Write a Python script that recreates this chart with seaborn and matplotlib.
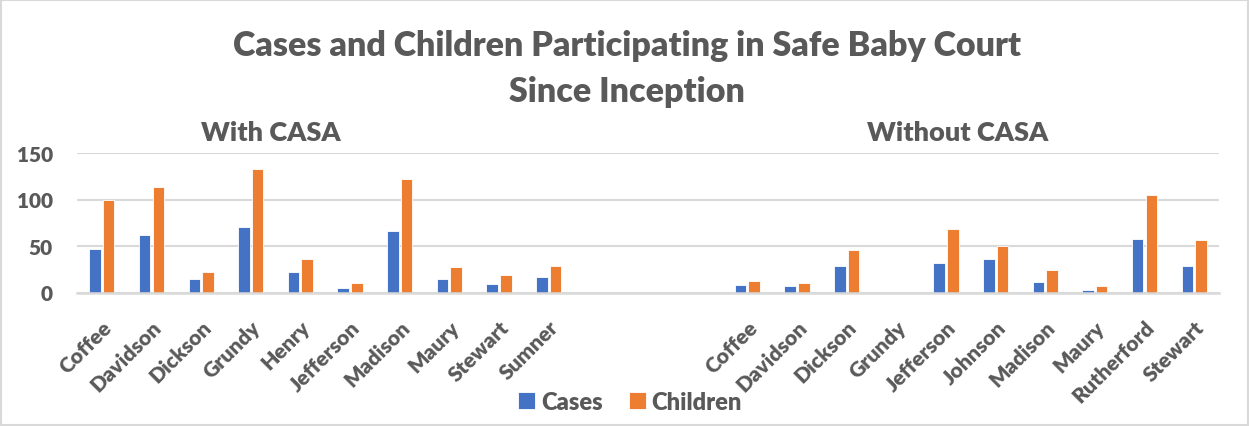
import matplotlib
matplotlib.use("Agg")
import matplotlib.pyplot as plt
import seaborn as sns
import pandas as pd
from matplotlib.patches import Rectangle

# ---- data ----
with_counties = ["Coffee", "Davidson", "Dickson", "Grundy", "Henry",
                 "Jefferson", "Madison", "Maury", "Stewart", "Sumner"]
with_cases = [47, 62, 14, 70, 22, 5, 66, 15, 9, 17]
with_children = [99, 113, 22, 133, 36, 10, 122, 27, 19, 29]

without_counties = ["Coffee", "Davidson", "Dickson", "Grundy", "Jefferson",
                    "Johnson", "Madison", "Maury", "Rutherford", "Stewart"]
without_cases = [8, 7, 29, 0, 32, 36, 11, 3, 57, 28]
without_children = [12, 10, 46, 0, 68, 50, 24, 7, 105, 56]

n_blank = 3
series_names = ["Cases", "Children"]
series_colors = ["#4472C4", "#ED7D31"]
y_ticks = [0, 50, 100, 150]
title_lines = ["Cases and Children Participating in Safe Baby Court", "Since Inception"]
group_titles = ["With CASA", "Without CASA"]

# ---- build long table ----
rows = []
order = []
tick_labels = []
for i, c in enumerate(with_counties):
    key = f"W{i}"
    order.append(key)
    tick_labels.append(c)
    rows.append((key, series_names[0], with_cases[i]))
    rows.append((key, series_names[1], with_children[i]))
for b in range(n_blank):
    order.append(f"B{b}")
    tick_labels.append("")
for i, c in enumerate(without_counties):
    key = f"N{i}"
    order.append(key)
    tick_labels.append(c)
    rows.append((key, series_names[0], without_cases[i]))
    rows.append((key, series_names[1], without_children[i]))
df = pd.DataFrame(rows, columns=["key", "series", "value"])

sns.set_theme(style="white")
FONT = ["Lato", "DejaVu Sans"]
plt.rcParams["font.family"] = FONT
W = 800
GRAY = "#595959"
GRID = "#d9d9d9"

fig = plt.figure(figsize=(12.49, 4.27), dpi=100)
ax = fig.add_axes([77 / 1249, 1 - 293.5 / 427, (1219 - 77) / 1249, (293.5 - 154) / 427])

sns.barplot(data=df, x="key", y="value", hue="series", order=order,
            hue_order=series_names, palette=series_colors, width=0.55, gap=0.15,
            saturation=1, edgecolor="white", linewidth=0.6, ax=ax)

ax.set_ylim(0, 150)
ax.set_xlim(-0.5, len(order) - 0.5)
ax.set_yticks(y_ticks)
ax.set_yticklabels([str(v) for v in y_ticks], fontsize=15, fontweight=W, color=GRAY)
ax.set_xticks(range(len(order)))
ax.set_xticklabels(tick_labels, rotation=45, ha="right", va="top",
                   rotation_mode="anchor", fontsize=15.3, fontweight=W, color=GRAY)
ax.tick_params(axis="x", length=0, pad=17.5)
ax.tick_params(axis="y", length=0, pad=17.5)
ax.set_xlabel("")
ax.set_ylabel("")
ax.yaxis.grid(True, color=GRID, linewidth=1.5)
ax.set_axisbelow(True)
for s in ["top", "left", "right"]:
    ax.spines[s].set_visible(False)
ax.spines["bottom"].set_color(GRID)
ax.spines["bottom"].set_linewidth(1.8)

handles, labels = ax.get_legend_handles_labels()
if ax.get_legend() is not None:
    ax.get_legend().remove()
fig.legend(handles, labels, loc="center", bbox_to_anchor=(630 / 1249, 1 - 403 / 427),
           ncol=2, frameon=False, prop={"size": 17, "weight": W},
           labelcolor=GRAY, handlelength=0.72, handleheight=0.72, handletextpad=0.25,
           columnspacing=1.1)

fig.text(627 / 1249, 1 - 46 / 427, title_lines[0], ha="center", va="center",
         fontsize=24.5, fontweight=W, color=GRAY)
fig.text(627 / 1249, 1 - 92 / 427, title_lines[1], ha="center", va="center",
         fontsize=24.5, fontweight=W, color=GRAY)
fig.text(271 / 1249, 1 - 133 / 427, group_titles[0], ha="center", va="center",
         fontsize=19.5, fontweight=W, color=GRAY)
fig.text(958 / 1249, 1 - 133 / 427, group_titles[1], ha="center", va="center",
         fontsize=19.5, fontweight=W, color=GRAY)

fig.patches.append(Rectangle((1 / 1249, 1 / 427), 1 - 2 / 1249, 1 - 2 / 427,
                             transform=fig.transFigure, fill=False,
                             edgecolor=GRID, linewidth=1.5))

fig.savefig("out.png", dpi=100)
